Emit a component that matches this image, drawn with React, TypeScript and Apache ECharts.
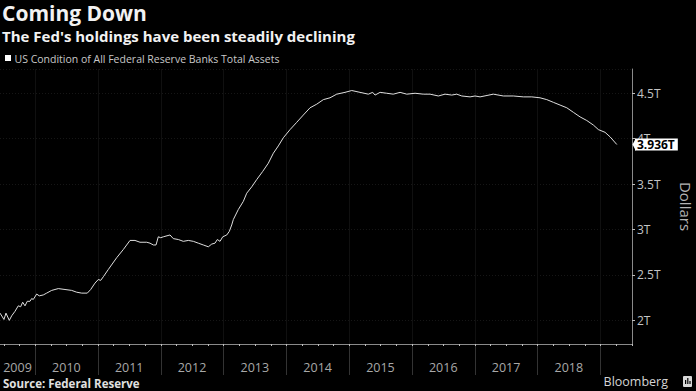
import React, { useEffect, useRef } from 'react';
import * as echarts from 'echarts';

// decimal years of the points
const years = [
  2009.443, 2009.506, 2009.538, 2009.591, 2009.629, 2009.682, 2009.734, 2009.772, 2009.804, 2009.841,
  2009.877, 2009.92, 2009.947, 2009.973, 2010.027, 2010.068, 2010.132, 2010.186, 2010.266, 2010.371,
  2010.478, 2010.584, 2010.664, 2010.744, 2010.833, 2010.887, 2010.955, 2011.008, 2011.046, 2011.088,
  2011.167, 2011.301, 2011.406, 2011.513, 2011.592, 2011.672, 2011.779, 2011.831, 2011.884, 2011.927,
  2011.963, 2012.002, 2012.043, 2012.15, 2012.202, 2012.282, 2012.361, 2012.441, 2012.521, 2012.6,
  2012.68, 2012.76, 2012.814, 2012.866, 2012.903, 2012.946, 2012.989, 2013.053, 2013.094, 2013.132,
  2013.158, 2013.237, 2013.317, 2013.371, 2013.451, 2013.53, 2013.626, 2013.715, 2013.795, 2013.874,
  2013.954, 2014.061, 2014.167, 2014.272, 2014.379, 2014.486, 2014.591, 2014.697, 2014.804, 2014.936,
  2015.043, 2015.175, 2015.307, 2015.377, 2015.414, 2015.494, 2015.6, 2015.705, 2015.812, 2015.919,
  2016.051, 2016.183, 2016.29, 2016.422, 2016.529, 2016.635, 2016.715, 2016.795, 2016.927, 2017.006,
  2017.086, 2017.298, 2017.457, 2017.616, 2017.775, 2017.909, 2018.041, 2018.148, 2018.253, 2018.36,
  2018.467, 2018.572, 2018.678, 2018.785, 2018.89, 2018.97, 2019.076, 2019.156, 2019.263,
];

// total assets, trillions of dollars
const assets = [
  2.08, 2.01, 2.08, 2.0, 2.05, 2.1, 2.16, 2.15, 2.2, 2.16,
  2.21, 2.21, 2.24, 2.23, 2.29, 2.27, 2.28, 2.3, 2.33, 2.35,
  2.34, 2.33, 2.31, 2.3, 2.3, 2.34, 2.41, 2.45, 2.44, 2.48,
  2.56, 2.69, 2.78, 2.88, 2.88, 2.86, 2.86, 2.85, 2.83, 2.83,
  2.92, 2.91, 2.92, 2.94, 2.9, 2.89, 2.87, 2.88, 2.87, 2.85,
  2.83, 2.81, 2.84, 2.85, 2.89, 2.87, 2.92, 2.94, 2.98, 3.05,
  3.11, 3.22, 3.31, 3.4, 3.47, 3.55, 3.64, 3.73, 3.84, 3.92,
  4.01, 4.1, 4.18, 4.26, 4.34, 4.38, 4.43, 4.45, 4.49, 4.51,
  4.53, 4.51, 4.49, 4.51, 4.48, 4.51, 4.5, 4.49, 4.51, 4.49,
  4.5, 4.49, 4.49, 4.47, 4.49, 4.48, 4.49, 4.47, 4.46, 4.47,
  4.46, 4.49, 4.47, 4.47, 4.46, 4.46, 4.45, 4.43, 4.4, 4.37,
  4.34, 4.29, 4.24, 4.2, 4.15, 4.1, 4.07, 4.02, 3.936,
];

const yearLabels = ['2009', '2010', '2011', '2012', '2013', '2014', '2015', '2016', '2017', '2018'];
const yTickValues = [2, 2.5, 3, 3.5, 4, 4.5];
const lastValue = 3.936;
const lastLabel = '3.936T';

const xMin = 2009.443;
const xMax = 2019.505;
const yMin = 1.74;
const yMax = 4.767;

const FONT = '"Open Sans", "DejaVu Sans", sans-serif';

export default function App() {
  const ref = useRef<HTMLDivElement>(null);

  useEffect(() => {
    const chart = echarts.init(ref.current!, null, { renderer: 'svg' });
    chart.setOption({
      animation: false,
      backgroundColor: '#000000',
      grid: { left: 0, right: 64, top: 69, bottom: 47, containLabel: false, outerBoundsMode: 'none' },
      xAxis: {
        type: 'value',
        min: xMin,
        max: xMax,
        axisLine: { show: true, lineStyle: { color: '#8a8a8a', width: 1 } },
        axisTick: { show: false },
        axisLabel: { show: false },
        splitLine: { show: false },
      },
      yAxis: {
        type: 'value',
        position: 'right',
        min: yMin,
        max: yMax,
        splitNumber: 6,
        axisLine: { show: true, lineStyle: { color: '#8a8a8a', width: 1 } },
        axisTick: { show: true, length: 3, lineStyle: { color: '#bdbdbd' } },
        axisLabel: {
          color: '#c4c4c4',
          fontSize: 12,
          fontFamily: FONT,
          margin: 5,
          showMinLabel: false,
          showMaxLabel: false,
          formatter: (v: number) => {
            const r = Math.round(v * 100) / 100;
            return yTickValues.includes(r) ? `${r}T` : '';
          },
        },
        splitLine: { show: true, lineStyle: { color: '#161616', type: [1, 2], width: 1 } },
        name: 'Dollars',
        nameLocation: 'middle',
        nameRotate: -90,
        nameGap: 46,
        nameTextStyle: { color: '#b4b4b4', fontSize: 15, fontFamily: FONT },
      },
      series: [
        {
          type: 'line',
          data: years.map((y, i) => [y, assets[i]]),
          showSymbol: false,
          silent: true,
          lineStyle: { color: '#dedede', width: 1 },
        },
      ],
    });

    const px = (v: number) => chart.convertToPixel({ xAxisIndex: 0 }, v) as number;
    const py = (v: number) => chart.convertToPixel({ yAxisIndex: 0 }, v) as number;
    const axisY = py(yMin);
    const topY = py(yMax);
    const els: any[] = [];

    // year grid lines and separators below the axis
    for (let yr = Number(yearLabels[1]); yr <= Number(yearLabels[yearLabels.length - 1]) + 1; yr++) {
      const x = Math.round(px(yr)) + 0.5;
      els.push({ type: 'line', silent: true, z: 1, shape: { x1: x, y1: topY, x2: x, y2: axisY }, style: { stroke: '#101010', lineWidth: 1 } });
      els.push({ type: 'line', silent: true, z: 1, shape: { x1: x, y1: axisY, x2: x, y2: axisY + 31 }, style: { stroke: '#333333', lineWidth: 1 } });
    }
    // quarterly minor ticks
    for (let q = 2009.5; q < xMax; q += 0.25) {
      const x = Math.round(px(q)) + 0.5;
      els.push({ type: 'line', silent: true, z: 5, shape: { x1: x, y1: axisY, x2: x, y2: axisY + 2 }, style: { stroke: '#bfbfbf', lineWidth: 1 } });
    }
    // year labels centred in each (visible) year
    yearLabels.forEach((lab) => {
      const yr = Number(lab);
      const left = Math.max(px(yr), 0);
      const right = px(yr + 1);
      els.push({
        type: 'text', silent: true, z: 5,
        x: (left + right) / 2, y: 367,
        style: { text: lab, fill: '#a8a8a8', fontSize: 12.5, fontFamily: FONT, align: 'center', verticalAlign: 'middle' },
      });
    });

    // last value flag
    const ly = py(lastValue);
    const ax = px(xMax);
    els.push({ type: 'polygon', silent: true, z: 50, shape: { points: [[ax + 0.5, ly], [ax + 4, ly - 6.5], [ax + 4, ly + 6.5]] }, style: { fill: '#ffffff' } });
    els.push({
      type: 'text', silent: true, z: 50,
      x: ax + 3, y: ly,
      style: {
        text: lastLabel, fill: '#000000', fontSize: 12, fontWeight: 'bold', fontFamily: FONT,
        verticalAlign: 'middle', align: 'left', backgroundColor: '#ffffff', padding: [0, 3, 0, 2],
      },
    });

    // titles and legend
    els.push({ type: 'text', silent: true, z: 5, x: 2, y: 12.5, style: { text: 'Coming Down', fill: '#f2f2f2', fontSize: 21, fontWeight: 'bold', fontFamily: FONT, verticalAlign: 'middle' } });
    els.push({ type: 'text', silent: true, z: 5, x: 2, y: 35.5, style: { text: "The Fed's holdings have been steadily declining", fill: '#f2f2f2', fontSize: 15, fontWeight: 'bold', fontFamily: FONT, verticalAlign: 'middle' } });
    els.push({ type: 'rect', silent: true, z: 5, shape: { x: 5, y: 55, width: 6, height: 6 }, style: { fill: '#ffffff' } });
    els.push({ type: 'text', silent: true, z: 5, x: 14.5, y: 58.5, style: { text: 'US Condition of All Federal Reserve Banks Total Assets', fill: '#c8c8c8', fontSize: 10.5, fontFamily: FONT, verticalAlign: 'middle' } });

    // footer
    els.push({ type: 'text', silent: true, z: 5, x: 3, y: 383.5, style: { text: 'Source: Federal Reserve', fill: '#e0e0e0', fontSize: 11.5, fontWeight: 'bold', fontFamily: FONT, verticalAlign: 'middle' } });
    els.push({ type: 'text', silent: true, z: 5, x: 668, y: 381.5, style: { text: 'Bloomberg', fill: '#d4d4d4', fontSize: 12.5, fontFamily: FONT, verticalAlign: 'middle', align: 'right' } });
    els.push({ type: 'rect', silent: true, z: 5, shape: { x: 683, y: 376, width: 9, height: 11, r: 1 }, style: { fill: '#d8d8d8' } });
    els.push({ type: 'rect', silent: true, z: 6, shape: { x: 685, y: 380, width: 1.2, height: 4 }, style: { fill: '#000' } });
    els.push({ type: 'rect', silent: true, z: 6, shape: { x: 687.2, y: 378, width: 1.2, height: 6 }, style: { fill: '#000' } });
    els.push({ type: 'rect', silent: true, z: 6, shape: { x: 689.4, y: 381, width: 1.2, height: 3 }, style: { fill: '#000' } });

    chart.setOption({ graphic: { elements: els } });

    return () => chart.dispose();
  }, []);

  return <div ref={ref} style={{ position: 'fixed', left: 0, top: 0, width: 696, height: 391 }} />;
}
